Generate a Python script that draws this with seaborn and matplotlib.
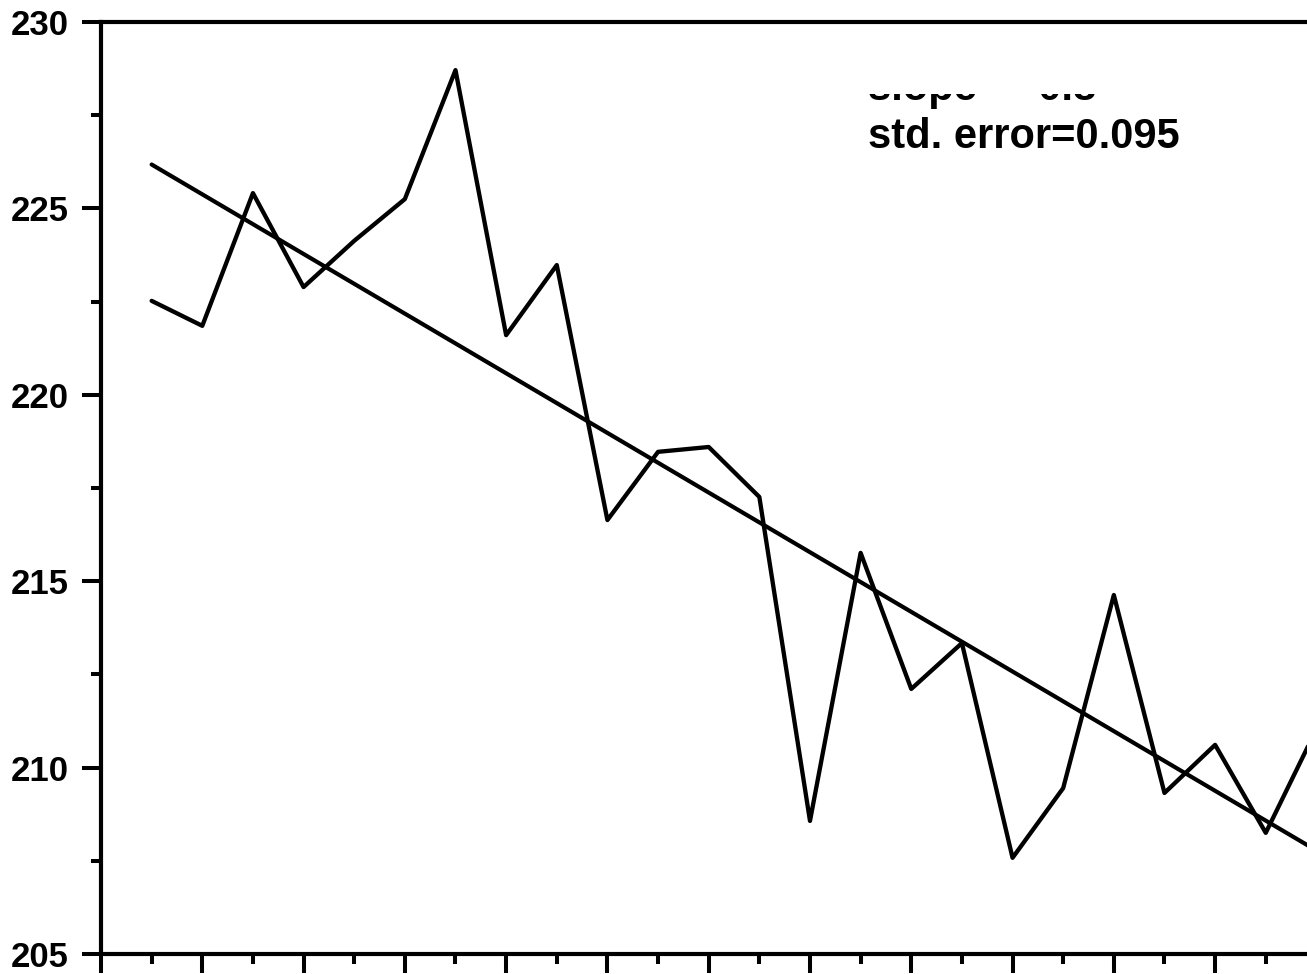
import numpy as np
import pandas as pd
import seaborn as sns
import matplotlib
matplotlib.use("Agg")
import matplotlib.pyplot as plt
from matplotlib.transforms import Bbox, TransformedBbox

# Observed series (one value per step)
steps = list(range(1, 25))
values = [222.52, 221.85, 225.41, 222.89, 224.13, 225.25, 228.71, 221.60,
          223.48, 216.64, 218.47, 218.60, 217.26, 208.57, 215.76, 212.11,
          213.34, 207.58, 209.45, 214.63, 209.32, 210.61, 208.25, 211.03]

# Linear trend as stated in the annotation
slope = -0.8
std_error = 0.095
slope_label = "slope = -0.8"
error_label = "std. error=0.095"

y_ticks = [205, 210, 215, 220, 225, 230]

sns.set_theme(style="ticks")
plt.rcParams["font.family"] = ["Liberation Sans", "DejaVu Sans"]
plt.rcParams["font.weight"] = "bold"

fig = plt.figure(figsize=(13.07, 9.74), dpi=100)
ax = fig.add_axes([0.07728, 0.02053, 1.0074, 0.95688])

df = pd.DataFrame({"step": steps, "value": values})
sns.lineplot(data=df, x="step", y="value", ax=ax, color="black",
             linewidth=3.1)

# Trend line through the mean point with the stated slope
x_mean = np.mean(steps)
y_mean = np.mean(values)
intercept = y_mean - slope * x_mean
fit_x = np.array([1.0, 26.0])
fit = pd.DataFrame({"step": fit_x, "value": intercept + slope * fit_x})
sns.lineplot(data=fit, x="step", y="value", ax=ax, color="black",
             linewidth=3.0)

ax.set_xlim(0, 26)
ax.set_ylim(205, 230)
ax.set_xticks(np.arange(0, 27, 2))
ax.set_xticks(np.arange(0, 27, 1), minor=True)
ax.set_yticks(y_ticks)
ax.set_yticks(np.arange(205, 230.1, 2.5), minor=True)
ax.set_xticklabels([])
ax.set_xlabel("")
ax.set_ylabel("")

for side in ["left", "bottom", "top", "right"]:
    ax.spines[side].set_visible(True)
    ax.spines[side].set_linewidth(3.0)
    ax.spines[side].set_color("black")

ax.tick_params(axis="both", which="major", direction="out", length=14,
               width=2.9, color="black")
ax.tick_params(axis="both", which="minor", direction="out", length=7,
               width=2.9, color="black")
ax.tick_params(axis="y", which="major", labelsize=25, pad=9,
               labelcolor="black")
for lab in ax.get_yticklabels():
    lab.set_fontweight("bold")

# Annotation block, upper line trimmed at its top
tx = (868 - 101) / 50.64
t1 = ax.text(tx, 230 - (100 - 22) / 37.28, slope_label, fontsize=30,
             fontweight="bold", color="black", ha="left", va="baseline")
t2 = ax.text(tx, 230 - (148 - 22) / 37.28, error_label, fontsize=30,
             fontweight="bold", color="black", ha="left", va="baseline")
clip_top = 230 - (94 - 22) / 37.28
t1.set_clip_box(TransformedBbox(Bbox([[10, 220], [26, clip_top]]),
                                ax.transData))
t1.set_clip_on(True)

fig.savefig("out.png", dpi=100)
